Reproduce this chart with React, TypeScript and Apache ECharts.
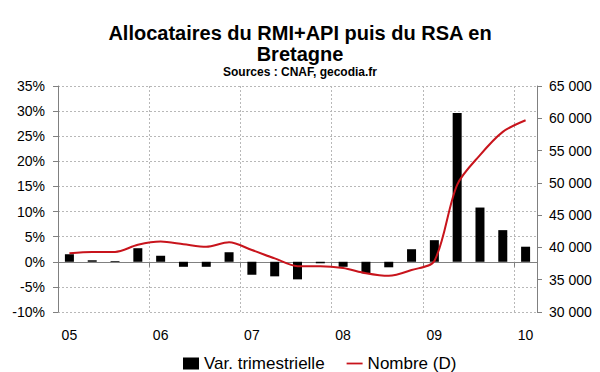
import React, { useEffect, useRef } from "react";
import * as echarts from "echarts";

const categories = [
  "2005-T1", "2005-T2", "2005-T3", "2005-T4",
  "2006-T1", "2006-T2", "2006-T3", "2006-T4",
  "2007-T1", "2007-T2", "2007-T3", "2007-T4",
  "2008-T1", "2008-T2", "2008-T3", "2008-T4",
  "2009-T1", "2009-T2", "2009-T3", "2009-T4",
  "2010-T1",
];
const varTrimestrielle = [1.5, 0.3, 0.15, 2.7, 1.2, -1.0, -1.0, 1.9, -2.6, -2.9, -3.5, -0.3, -1.0, -2.3, -1.1, 2.5, 4.3, 29.6, 10.8, 6.3, 3.0];
const nombre = [39100, 39300, 39300, 40400, 40900, 40500, 40100, 40800, 39600, 38300, 37100, 37100, 36800, 36000, 35600, 36500, 37900, 49700, 54300, 57900, 59700];

const FONT = "'Liberation Sans', Arial, sans-serif";
const GRID_COLOR = "#b8b8b8";
const AXIS_COLOR = "#808080";
const RED = "#c8141c";

export default function App() {
  const ref = useRef<HTMLDivElement>(null);
  useEffect(() => {
    if (!ref.current) return;
    const chart = echarts.init(ref.current, null, { renderer: "svg" });
    chart.setOption({
      animation: false,
      backgroundColor: "#ffffff",
      textStyle: { fontFamily: FONT },
      title: [
        {
          text: "Allocataires du RMI+API puis du RSA en\nBretagne",
          left: "center",
          top: 22,
          padding: 0,
          textStyle: { fontFamily: FONT, fontSize: 20, fontWeight: "bold", color: "#000", lineHeight: 21 },
        },
        {
          text: "Sources : CNAF, gecodia.fr",
          left: "center",
          top: 66,
          padding: 0,
          textStyle: { fontFamily: FONT, fontSize: 12, fontWeight: "bold", color: "#000" },
        },
      ],
      legend: {
        left: 183,
        top: 355,
        padding: 0,
        itemGap: 22,
        itemWidth: 16,
        itemHeight: 12,
        textStyle: { fontFamily: FONT, fontSize: 17, color: "#000" },
        data: [
          { name: "Var. trimestrielle", icon: "rect" },
          { name: "Nombre (D)", icon: "path://M0,0 H18 V2 H0 Z" },
        ],
      },
      grid: { left: 58, right: 63, top: 86, bottom: 60, containLabel: false },
      xAxis: [
        {
          type: "category",
          data: categories,
          position: "bottom",
          boundaryGap: true,
          axisLine: { show: false, onZero: false },
          axisTick: { show: false },
          axisLabel: {
            interval: 3,
            margin: 16,
            fontFamily: FONT,
            fontSize: 14,
            color: "#000",
            formatter: (v: string) => v.slice(2, 4),
          },
          splitLine: { show: true, interval: 3, lineStyle: { color: GRID_COLOR, type: [2, 2], width: 1 } },
        },
        {
          type: "category",
          data: categories,
          position: "bottom",
          boundaryGap: true,
          axisLine: { show: true, onZero: true, onZeroAxisIndex: 0, lineStyle: { color: AXIS_COLOR, width: 1 } },
          axisTick: { show: true, interval: 3, length: 5, lineStyle: { color: AXIS_COLOR } },
          axisLabel: { show: false },
          splitLine: { show: false },
        },
      ],
      yAxis: [
        {
          type: "value",
          position: "left",
          min: -10,
          max: 35,
          interval: 5,
          axisLine: { show: true, lineStyle: { color: AXIS_COLOR, width: 1 } },
          axisTick: { show: true, length: 5, lineStyle: { color: AXIS_COLOR } },
          axisLabel: { margin: 13, fontFamily: FONT, fontSize: 14, color: "#000", formatter: "{value}%" },
          splitLine: { show: true, lineStyle: { color: GRID_COLOR, type: [2, 2], width: 1 } },
        },
        {
          type: "value",
          position: "right",
          min: 30000,
          max: 65000,
          interval: 5000,
          axisLine: { show: true, lineStyle: { color: AXIS_COLOR, width: 1 } },
          axisTick: { show: true, length: 5, lineStyle: { color: AXIS_COLOR } },
          axisLabel: {
            margin: 12,
            fontFamily: FONT,
            fontSize: 14,
            color: "#000",
            formatter: (v: number) => String(v).replace(/\B(?=(\d{3})+(?!\d))/g, " "),
          },
          splitLine: { show: false },
        },
      ],
      series: [
        {
          name: "Var. trimestrielle",
          type: "bar",
          xAxisIndex: 0,
          yAxisIndex: 0,
          data: varTrimestrielle,
          barWidth: 9,
          itemStyle: { color: "#000000" },
        },
        {
          name: "Nombre (D)",
          type: "line",
          xAxisIndex: 0,
          yAxisIndex: 1,
          data: nombre,
          symbol: "none",
          smooth: 0.3,
          lineStyle: { color: RED, width: 2 },
          itemStyle: { color: RED },
          z: 3,
        },
      ],
    });
    return () => chart.dispose();
  }, []);
  return (
    <div
      ref={ref}
      style={{ position: "fixed", left: 0, top: 0, width: 600, height: 372, background: "#fff" }}
    />
  );
}
